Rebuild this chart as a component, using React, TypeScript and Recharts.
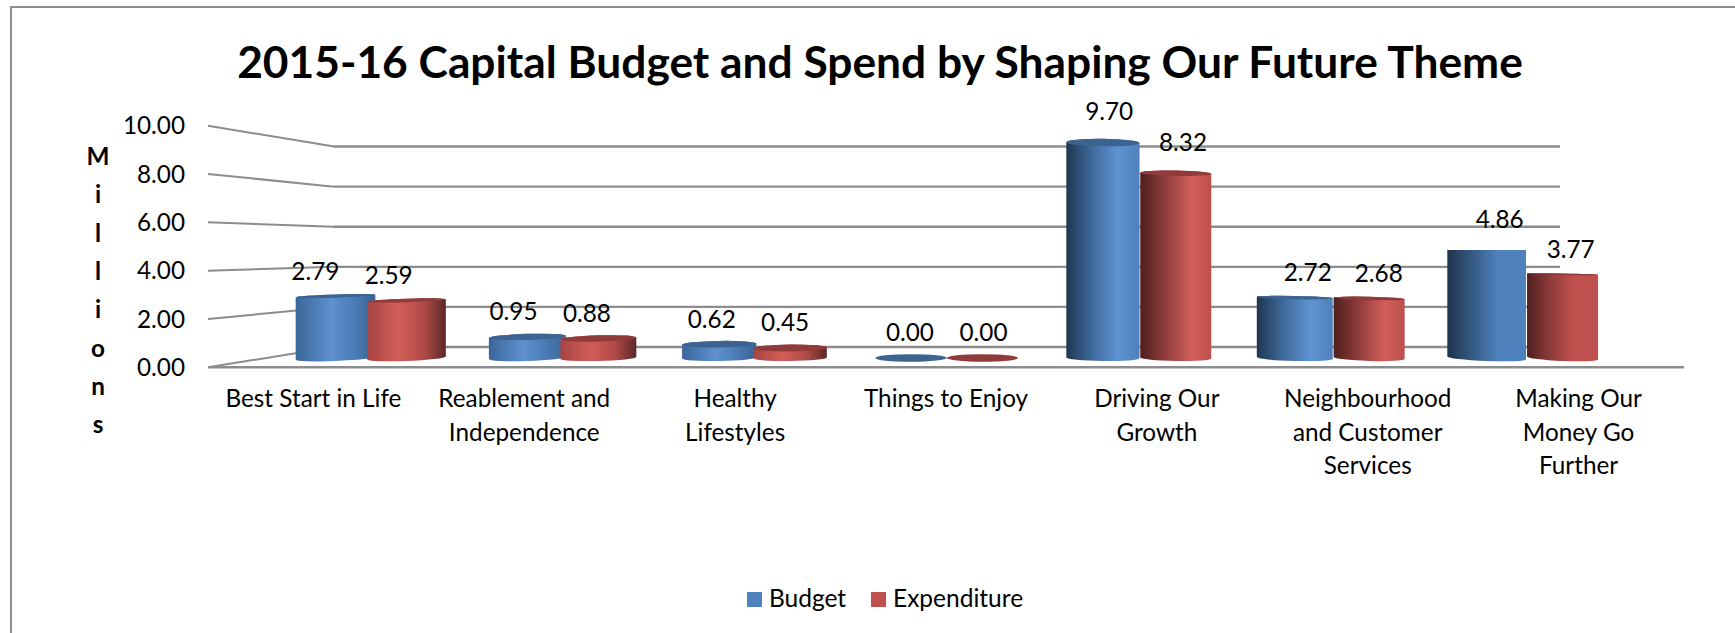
import React from 'react';
import { BarChart, Bar, XAxis, YAxis, LabelList, Legend, ReferenceLine } from 'recharts';

const categories = [
  'Best Start in Life',
  'Reablement and\nIndependence',
  'Healthy\nLifestyles',
  'Things to Enjoy',
  'Driving Our\nGrowth',
  'Neighbourhood\nand Customer\nServices',
  'Making Our\nMoney Go\nFurther',
];
const budget = [2.79, 0.95, 0.62, 0.0, 9.7, 2.72, 4.86];
const expenditure = [2.59, 0.88, 0.45, 0.0, 8.32, 2.68, 3.77];
const valueTicks = [0, 2, 4, 6, 8, 10];
const axisTitleLetters = ['M', 'i', 'l', 'l', 'i', 'o', 'n', 's'];

const chartData = categories.map((name, i) => ({
  name,
  budget: budget[i],
  expenditure: expenditure[i],
}));

const WIDTH = 1735;
const HEIGHT = 633;
const FONT = 'Lato, Carlito, Calibri, sans-serif';
const TEXT_SIZE = 24.3;
const GRID = '#8c8c8c';
const PLOT = { left: 208, right: 1684, top: 125.7, bottom: 367.3 };
const WALL_INSET_LEFT = 126;
const WALL_INSET_RIGHT = 124;
const VANISH_X = 946;
const EYE_Y = 250;

type Stop = [string, string];
const shades: Record<string, Stop[]> = {
  'budget-left': [['0%', '#3a6699'], ['45%', '#5e90d0'], ['75%', '#4a7ab5'], ['100%', '#3a6391']],
  'budget-right': [['0%', '#1f3550'], ['35%', '#3f6a9c'], ['70%', '#5f93d3'], ['100%', '#4f80bb']],
  'budget-far': [['0%', '#1e334d'], ['30%', '#34587f'], ['65%', '#4f81bd'], ['100%', '#4f81bd']],
  'expenditure-left': [['0%', '#a64442'], ['40%', '#d25d59'], ['72%', '#b04b48'], ['100%', '#5c2826']],
  'expenditure-right': [['0%', '#4e1f1e'], ['35%', '#8f3c3a'], ['72%', '#d35f5b'], ['100%', '#bc4f4c']],
  'expenditure-far': [['0%', '#4e1f1e'], ['30%', '#8a3a38'], ['65%', '#c0504d'], ['100%', '#c0504d']],
};
const topShades: Record<string, string> = { budget: '#3d6390', expenditure: '#8f3b39' };

const shadeZone = (centre: number) => (centre < VANISH_X ? 'left' : centre > 1450 ? 'far' : 'right');

// Cylinder column, widened and tilted a little the further it sits from the vanishing point
const cylinder = (series: 'budget' | 'expenditure') => (props: any) => {
  const { x, y, width, height } = props;
  const rawCentre = x + width / 2;
  const dist = rawCentre - VANISH_X;
  const isRightRed = series === 'expenditure' && dist > 0;
  const centre = isRightRed ? rawCentre + dist * 0.008 : rawCentre;
  const w = width * (isRightRed ? 1 : 1 + Math.abs(dist) * 0.0002);
  const left = centre - w / 2;
  const right = centre + w / 2;
  const base = y + height;
  const eyeGap = Math.abs(y - EYE_Y);
  const angle = dist * 0.004;
  const baseTilt = (w / 2) * Math.tan((angle * Math.PI) / 180);
  // the cap flattens out as the column top nears eye level
  const flatten = Math.min(1, eyeGap / 60);
  const topTilt = baseTilt * flatten;
  const topAngle = angle * flatten;
  const topRy = Math.min(4, eyeGap * 0.035);
  const baseRy = 3;
  const fill = `url(#${series}-${shadeZone(rawCentre)})`;
  const cap = `rotate(${topAngle} ${centre} ${y})`;

  return (
    <g>
      {height > 0 && (
        <path
          d={`M${left},${y - topTilt} L${left},${base - baseTilt} A${w / 2},${baseRy} ${angle} 0 0 ${right},${base + baseTilt} L${right},${y + topTilt} Z`}
          fill={fill}
        />
      )}
      {height > 0 && <ellipse cx={centre} cy={y} rx={w / 2} ry={topRy} fill={fill} transform={cap} />}
      <ellipse cx={centre} cy={y} rx={w / 2} ry={topRy} fill={topShades[series]} transform={cap} />
    </g>
  );
};

const ValueLabel = (props: any) => {
  const { x, y, width, value } = props;
  const centre = x + width / 2;
  const dist = centre - VANISH_X;
  return (
    <text
      x={centre + (dist > 0 ? Math.min(13, dist * 0.04) : dist * 0.033)}
      y={y - (y < 260 ? 32 : 26)}
      textAnchor="middle"
      dominantBaseline="central"
      fontSize={TEXT_SIZE}
      fontFamily={FONT}
      fill="#000"
    >
      {Number(value).toFixed(2)}
    </text>
  );
};

const CategoryTick = (props: any) => {
  const { x, y, payload } = props;
  return (
    <text x={x} textAnchor="middle" fontSize={TEXT_SIZE} fontFamily={FONT} fill="#000">
      {String(payload.value)
        .split('\n')
        .map((line, i) => (
          <tspan key={line} x={x} y={y + 32 + i * 33.5}>
            {line}
          </tspan>
        ))}
    </text>
  );
};

// Back-wall gridline plus the slanted run along the side wall down to the value axis
const WallLine = (value: number) => (props: any) => {
  const { x1, x2, y1 } = props;
  const frontY = PLOT.bottom - (value / 10) * (PLOT.bottom - PLOT.top);
  const backLeft = x1 + WALL_INSET_LEFT;
  return (
    <g fill="none" stroke={GRID}>
      <line x1={backLeft} y1={y1} x2={x2 - WALL_INSET_RIGHT} y2={y1} strokeWidth={2.4} />
      <line x1={x1} y1={frontY} x2={backLeft} y2={y1} strokeWidth={2} />
    </g>
  );
};

const LegendRow = (props: any) => (
  <div style={{ position: 'relative', height: 30, fontFamily: FONT, fontSize: 24.5, color: '#000' }}>
    {props.payload.map((entry: any, i: number) => (
      <span key={entry.value} style={{ position: 'absolute', left: i === 0 ? 747 : 871, top: 0, whiteSpace: 'nowrap' }}>
        <span style={{ display: 'inline-block', width: 15, height: 15, background: entry.color, marginRight: 7 }} />
        {entry.value}
      </span>
    ))}
  </div>
);

export default function App() {
  return (
    <div style={{ position: 'absolute', left: 0, top: 0, width: WIDTH, height: HEIGHT, background: '#fff', overflow: 'hidden' }}>
      <div
        style={{
          position: 'absolute',
          left: 10,
          top: 6,
          right: 0,
          bottom: 0,
          borderLeft: `2px solid ${GRID}`,
          borderTop: `2px solid ${GRID}`,
        }}
      />
      <BarChart
        width={WIDTH}
        height={HEIGHT}
        data={chartData}
        barSize={71}
        barGap={0}
        margin={{ top: PLOT.top, right: WIDTH - PLOT.right, bottom: HEIGHT - PLOT.bottom - 60, left: PLOT.left - 60 }}
        style={{ position: 'absolute', left: 0, top: 0 }}
      >
        <defs>
          {Object.entries(shades).map(([id, stops]) => (
            <linearGradient key={id} id={id} x1="0" y1="0" x2="1" y2="0">
              {stops.map(([offset, color]) => (
                <stop key={offset} offset={offset} stopColor={color} />
              ))}
            </linearGradient>
          ))}
        </defs>
        <text x={880} y={60} textAnchor="middle" dominantBaseline="central" fontFamily={FONT} fontWeight={700} fontSize={44.3} fill="#000">
          2015-16 Capital Budget and Spend by Shaping Our Future Theme
        </text>
        <text fontFamily={FONT} fontWeight={700} fontSize={TEXT_SIZE} textAnchor="middle" dominantBaseline="central" fill="#000">
          {axisTitleLetters.map((letter, i) => (
            <tspan key={i} x={98} y={155 + i * 38.3}>
              {letter}
            </tspan>
          ))}
        </text>
        <XAxis xAxisId="bars" dataKey="name" hide height={0} padding={{ left: 67, right: 66 }} />
        <XAxis
          xAxisId="labels"
          dataKey="name"
          height={60}
          tickLine={false}
          interval={0}
          axisLine={{ stroke: GRID, strokeWidth: 2.5 }}
          tick={CategoryTick}
        />
        <YAxis
          yAxisId="front"
          width={60}
          domain={[0, 10]}
          allowDataOverflow
          ticks={valueTicks}
          interval={0}
          axisLine={false}
          tickSize={0}
          tickMargin={23}
          tickFormatter={(v: number) => v.toFixed(2)}
          tick={{ fontSize: TEXT_SIZE, fontFamily: FONT, fill: '#000' }}
        />
        <YAxis yAxisId="bars" hide width={0} domain={[-0.42, 10.46]} allowDataOverflow />
        <YAxis yAxisId="wall" hide width={0} domain={[-1.012, 11.04]} allowDataOverflow />
        {valueTicks.map((v) => (
          <ReferenceLine key={v} xAxisId="labels" yAxisId="wall" y={v} shape={WallLine(v)} zIndex={-1} />
        ))}
        <Bar
          dataKey="budget"
          name="Budget"
          xAxisId="bars"
          yAxisId="bars"
          fill="#4f81bd"
          isAnimationActive={false}
          shape={cylinder('budget')}
        >
          <LabelList dataKey="budget" content={ValueLabel} />
        </Bar>
        <Bar
          dataKey="expenditure"
          name="Expenditure"
          xAxisId="bars"
          yAxisId="bars"
          fill="#c0504d"
          isAnimationActive={false}
          shape={cylinder('expenditure')}
        >
          <LabelList dataKey="expenditure" content={ValueLabel} />
        </Bar>
        <Legend
          layout="vertical"
          align="center"
          verticalAlign="middle"
          content={LegendRow}
          wrapperStyle={{ position: 'absolute', left: 0, top: 583, width: WIDTH }}
        />
      </BarChart>
    </div>
  );
}
